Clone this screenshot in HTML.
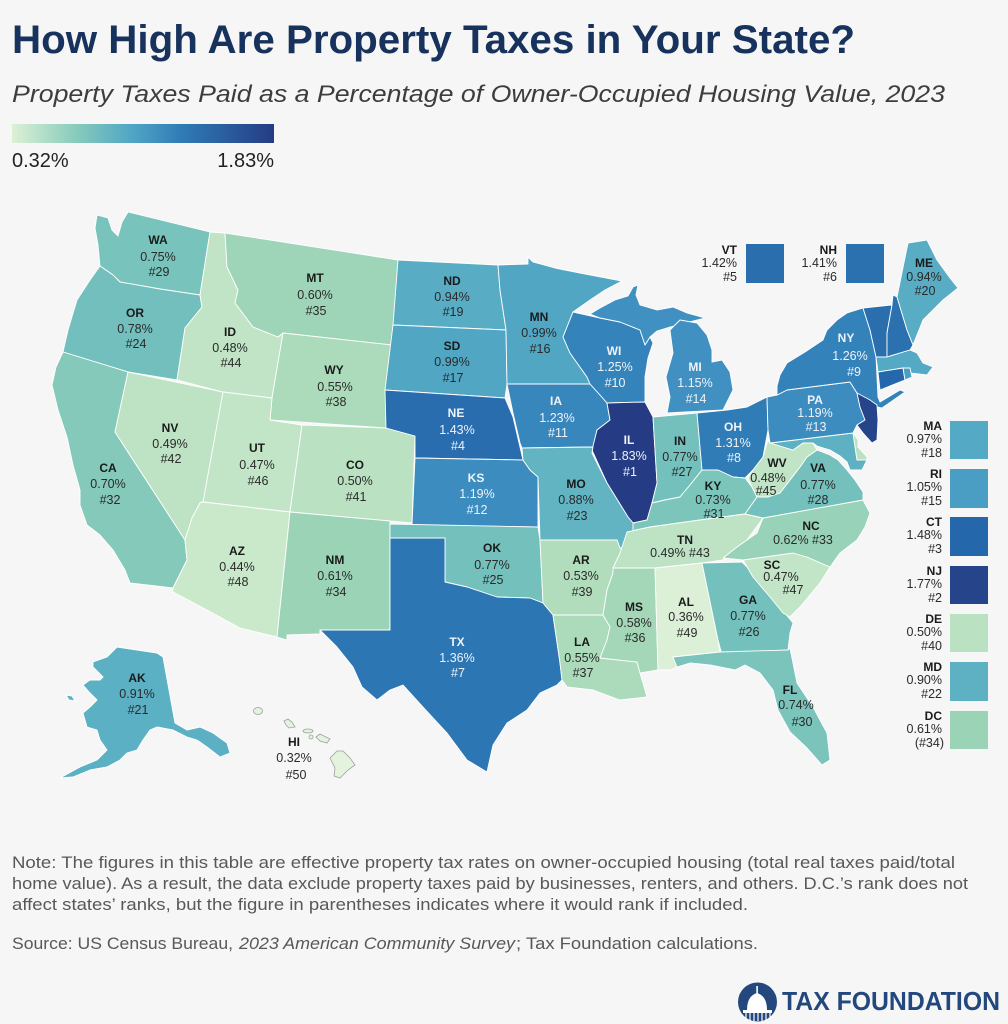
<!DOCTYPE html>
<html><head><meta charset="utf-8"><style>
html,body{margin:0;padding:0;background:#f6f6f6;}
svg{display:block;font-family:"Liberation Sans",Arial,sans-serif;}
.s{stroke:#fff;stroke-width:0.9;stroke-linejoin:round;}
.a{font-weight:bold;font-size:12px;fill:#1a1a1a;}
.v{font-size:12.5px;fill:#2a2a2a;}
.w .a,.w .v{fill:#eef3f9;}
.lab text{text-anchor:middle;}
.ins text{text-anchor:end;}
</style></head><body>
<svg width="1008" height="1024" viewBox="0 0 1008 1024" xmlns="http://www.w3.org/2000/svg">
<defs>
<linearGradient id="g" x1="0" x2="1" y1="0" y2="0">
<stop offset="0" stop-color="#dcf1d5"/>
<stop offset="0.25" stop-color="#86cabb"/>
<stop offset="0.45" stop-color="#52a7c5"/>
<stop offset="0.65" stop-color="#2f7bb6"/>
<stop offset="1" stop-color="#253c84"/>
</linearGradient>
</defs>
<rect width="1008" height="1024" fill="#f6f6f6"/>
<text x="12" y="53" font-size="40" font-weight="bold" fill="#17325c" textLength="843" lengthAdjust="spacingAndGlyphs">How High Are Property Taxes in Your State?</text>
<text x="12" y="102" font-size="24" font-style="italic" fill="#3d3d3d" textLength="933" lengthAdjust="spacingAndGlyphs">Property Taxes Paid as a Percentage of Owner-Occupied Housing Value, 2023</text>
<rect x="12" y="124" width="262" height="19" fill="url(#g)"/>
<text x="12" y="167" font-size="20" fill="#222">0.32%</text>
<text x="274" y="167" font-size="20" fill="#222" text-anchor="end">1.83%</text>

<g class="s">
<polygon fill="#78c3bc" points="97,215 108,218 112,230 118,236 122,222 128,212 210,232 200,295 160,289 120,282 113,275 100,266 98,245 95,228"/>
<polygon fill="#72bfbe" points="100,266 113,275 120,282 160,289 200,295 202,307 185,328 177,380 128,372 63,352 68,330 77,300 90,280"/>
<polygon fill="#84c9ba" points="63,352 128,372 115,432 185,540 187,560 173,588 130,583 125,570 113,550 100,535 87,525 80,505 80,490 73,465 67,437 58,410 52,385 56,367"/>
<polygon fill="#bde3c4" points="128,372 223,392 205,500 200,503 192,518 185,540 115,432"/>
<polygon fill="#c0e4c5" points="210,232 225,233 227,267 238,290 235,303 253,327 278,337 283,333 272,398 223,392 177,380 185,328 202,307 200,295"/>
<polygon fill="#9ed4b7" points="225,233 398,260 392,345 283,333 278,337 253,327 235,303 238,290 227,267"/>
<polygon fill="#abdbba" points="283,333 392,345 386,428 270,420 272,398"/>
<polygon fill="#c3e5c7" points="223,392 272,398 270,420 302,425 290,512 203,502"/>
<polygon fill="#bae2c2" points="302,425 386,428 415,436 412,523 290,512"/>
<polygon fill="#cae9cb" points="203,502 290,512 277,637 240,628 207,610 173,592 173,588 187,560 185,540 192,518 200,503"/>
<polygon fill="#9bd3b7" points="290,512 390,521 390,630 320,630 320,634 287,635 287,640 277,637"/>
<polygon fill="#58acc4" points="398,260 498,265 500,290 503,310 506,330 393,325"/>
<polygon fill="#51a6c4" points="393,325 506,330 507,384 505,398 385,390"/>
<polygon fill="#2a6dae" points="385,390 505,398 513,417 520,447 523,460 415,458 415,436 386,428"/>
<polygon fill="#3c8cbf" points="415,458 523,460 530,470 538,477 538,527 412,525"/>
<polygon fill="#74c0bd" points="390,524 538,527 540,540 543,603 530,598 497,597 467,587 445,582 445,538 390,538"/>
<polygon fill="#2c76b3" points="390,538 445,538 445,582 467,587 497,597 530,598 543,603 553,615 560,663 562,680 557,685 540,693 527,710 507,723 493,745 487,772 467,760 447,733 423,707 403,685 390,690 377,700 362,687 353,667 337,647 320,630 390,630"/>
<polygon fill="#51a6c4" points="498,265 528,264 528,257 533,262 555,268 580,273 622,281 605,290 590,300 573,312 563,337 570,353 587,377 590,384 507,384 506,330 503,310 500,290"/>
<polygon fill="#3887bc" points="507,384 590,384 600,395 607,403 610,420 597,430 593,447 522,448 520,443 513,413"/>
<polygon fill="#3483ba" points="573,312 600,318 620,322 640,330 645,345 650,337 653,343 648,358 645,377 645,402 607,403 600,395 590,384 587,377 570,353 563,337"/>
<polygon fill="#4091c1" points="590,314 600,308 615,300 628,296 633,287 638,285 636,295 640,305 657,310 673,307 687,313 705,318 693,321 670,327 657,331 650,337 645,345 640,330 620,322 600,318"/>
<polygon fill="#4091c1" points="670,330 680,320 697,323 707,335 712,350 712,362 722,360 730,372 733,390 727,402 723,410 667,413 670,397 666,377 673,353"/>
<polygon fill="#253c84" points="607,403 645,402 653,417 657,483 652,503 647,520 633,523 628,517 607,483 592,450 597,430 610,420"/>
<polygon fill="#74c0bd" points="653,417 697,413 702,470 690,485 680,497 665,500 652,503 657,483"/>
<polygon fill="#307cb6" points="697,413 727,410 747,407 767,397 768,430 763,457 753,470 745,478 733,477 718,470 702,470"/>
<polygon fill="#7cc5bb" points="633,523 647,520 652,503 665,500 680,497 690,485 702,470 718,470 733,477 745,478 752,487 757,497 745,514 700,520 650,527 627,532"/>
<polygon fill="#62b4c2" points="522,448 593,447 592,453 607,483 628,517 633,523 633,533 627,537 628,548 620,548 617,540 540,540 538,477 530,470 523,460"/>
<polygon fill="#b1ddbd" points="540,540 617,540 620,548 623,550 613,573 607,590 603,615 553,615 543,603"/>
<polygon fill="#abdbba" points="553,615 603,615 610,627 607,640 600,658 637,662 640,673 647,697 620,700 593,690 567,687 562,680 560,663"/>
<polygon fill="#a3d7b8" points="613,568 655,568 658,670 640,673 637,662 600,658 607,640 610,627 603,615 607,590 613,573"/>
<polygon fill="#bde3c4" points="627,532 650,527 700,520 745,514 763,518 747,540 727,557 723,560 702,563 655,568 613,568 620,553"/>
<polygon fill="#dcf0d7" points="655,568 702,563 718,640 720,652 673,657 677,667 670,670 658,670"/>
<polygon fill="#74c0bd" points="702,563 742,562 757,577 780,607 793,623 790,633 788,650 722,655 718,640"/>
<polygon fill="#7ac4bc" points="673,657 720,652 788,650 790,648 797,683 813,707 827,733 830,760 822,765 807,748 790,732 778,710 773,690 760,673 745,665 735,670 710,665 690,663 677,667"/>
<polygon fill="#c3e5c7" points="743,560 793,553 807,557 830,567 820,583 800,607 790,617 783,613 770,597 753,577"/>
<polygon fill="#98d2b8" points="763,518 863,500 870,513 865,527 857,540 840,553 830,567 807,557 793,553 743,560 723,558 737,547 757,533"/>
<polygon fill="#74c0bd" points="745,514 757,497 768,497 780,493 790,480 800,467 807,457 817,450 830,455 838,460 847,470 855,480 863,492 863,500 763,518"/>
<polygon fill="#c0e4c5" points="768,440 770,443 793,450 803,443 813,443 817,450 807,457 800,467 790,480 780,493 768,497 757,497 752,487 748,478 753,470 763,457"/>
<polygon fill="#5eb1c3" points="770,443 853,433 857,460 867,460 862,470 850,470 847,462 840,456 830,450 817,446 813,443 803,443 793,450"/>
<polygon fill="#bae2c2" points="853,433 858,440 858,447 867,457 867,460 857,460"/>
<polygon fill="#3c8cbf" points="767,397 777,395 787,390 850,382 857,393 860,407 865,420 857,425 853,433 770,443 768,430"/>
<polygon fill="#3382b9" points="777,395 777,386 780,375 787,363 805,352 823,340 827,330 837,320 847,313 863,308 870,330 876,357 877,377 878,397 880,402 900,390 905,392 882,408 870,405 857,393 850,382 787,390"/>
<polygon fill="#26448a" points="857,393 870,400 877,405 878,420 877,440 872,443 863,433 857,425 865,420 860,407"/>
<polygon fill="#2a6eae" points="863,308 892,305 887,333 887,357 876,357 870,330"/>
<polygon fill="#2b70af" points="892,305 893,295 897,297 907,330 913,345 910,350 887,357 887,333"/>
<polygon fill="#58acc4" points="897,297 908,243 927,240 937,260 950,278 958,288 943,300 923,320 913,345 907,330"/>
<polygon fill="#54a9c4" points="876,357 887,357 910,350 917,353 923,363 933,367 927,375 910,373 903,368 878,372"/>
<polygon fill="#2467aa" points="878,372 903,368 905,380 880,390"/>
<polygon fill="#4a9ec3" points="903,368 910,368 912,377 905,380"/>
<polygon fill="#5cb0c3" points="93,667 93,662 107,657 117,647 157,653 163,657 175,723 187,730 200,727 213,733 227,743 230,753 220,757 207,747 197,740 187,737 173,730 157,727 150,730 143,740 137,750 127,753 120,760 107,767 90,770 73,777 60,778 80,767 97,760 107,750 100,740 97,730 87,727 83,713 90,707 97,700 90,693 83,685 90,680 100,680 103,677"/>
<polygon fill="#5cb0c3" points="66,695 72,696 75,701 69,700"/>
</g>
<g fill="#e3f3dd" stroke="#9aa3a0" stroke-width="0.8">
<ellipse cx="258" cy="711" rx="4.5" ry="3.5"/>
<polygon points="284,721 288,719 292,722 295,727 289,728 286,725"/>
<ellipse cx="308" cy="731" rx="5" ry="2"/>
<circle cx="311" cy="737" r="2"/>
<polygon points="316,737 320,734 324,736 330,739 327,743 320,741"/>
<polygon points="330,758 337,751 343,751 350,758 355,765 348,770 340,778 334,776 335,768"/>
</g>

<g class="lab">
<text class="a" x="158" y="244">WA</text><text class="v" x="158" y="261">0.75%</text><text class="v" x="159" y="276">#29</text>
<text class="a" x="135" y="317">OR</text><text class="v" x="135" y="333">0.78%</text><text class="v" x="136" y="348">#24</text>
<text class="a" x="230" y="336">ID</text><text class="v" x="230" y="352">0.48%</text><text class="v" x="231" y="367">#44</text>
<text class="a" x="315" y="282">MT</text><text class="v" x="315" y="299">0.60%</text><text class="v" x="316" y="315">#35</text>
<text class="a" x="334" y="374">WY</text><text class="v" x="335" y="391">0.55%</text><text class="v" x="336" y="406">#38</text>
<text class="a" x="170" y="432">NV</text><text class="v" x="170" y="448">0.49%</text><text class="v" x="171" y="463">#42</text>
<text class="a" x="257" y="452">UT</text><text class="v" x="257" y="469">0.47%</text><text class="v" x="258" y="485">#46</text>
<text class="a" x="355" y="469">CO</text><text class="v" x="355" y="485">0.50%</text><text class="v" x="356" y="501">#41</text>
<text class="a" x="108" y="472">CA</text><text class="v" x="108" y="488">0.70%</text><text class="v" x="110" y="504">#32</text>
<text class="a" x="237" y="555">AZ</text><text class="v" x="237" y="571">0.44%</text><text class="v" x="238" y="586">#48</text>
<text class="a" x="335" y="564">NM</text><text class="v" x="335" y="580">0.61%</text><text class="v" x="336" y="596">#34</text>
<text class="a" x="137" y="682">AK</text><text class="v" x="137" y="698">0.91%</text><text class="v" x="138" y="714">#21</text>
<text class="a" x="294" y="746">HI</text><text class="v" x="294" y="762">0.32%</text><text class="v" x="296" y="779">#50</text>
<text class="a" x="452" y="285">ND</text><text class="v" x="452" y="301">0.94%</text><text class="v" x="453" y="316">#19</text>
<text class="a" x="539" y="321">MN</text><text class="v" x="539" y="337">0.99%</text><text class="v" x="540" y="353">#16</text>
<text class="a" x="452" y="350">SD</text><text class="v" x="452" y="366">0.99%</text><text class="v" x="453" y="382">#17</text>
<text class="a" x="680" y="445">IN</text><text class="v" x="680" y="461">0.77%</text><text class="v" x="682" y="476">#27</text>
<text class="a" x="576" y="488">MO</text><text class="v" x="576" y="504">0.88%</text><text class="v" x="577" y="520">#23</text>
<text class="a" x="713" y="490">KY</text><text class="v" x="713" y="504">0.73%</text><text class="v" x="714" y="518">#31</text>
<text class="a" x="777" y="467">WV</text><text class="v" x="768" y="482">0.48%</text><text class="v" x="766" y="495">#45</text>
<text class="a" x="818" y="472">VA</text><text class="v" x="818" y="489">0.77%</text><text class="v" x="818" y="504">#28</text>
<text class="a" x="685" y="544">TN</text><text class="v" x="680" y="557">0.49%  #43</text>
<text class="a" x="811" y="530">NC</text><text class="v" x="803" y="544">0.62%  #33</text>
<text class="a" x="772" y="569">SC</text><text class="v" x="781" y="581">0.47%</text><text class="v" x="793" y="594">#47</text>
<text class="a" x="492" y="552">OK</text><text class="v" x="492" y="569">0.77%</text><text class="v" x="493" y="584">#25</text>
<text class="a" x="581" y="564">AR</text><text class="v" x="581" y="580">0.53%</text><text class="v" x="582" y="596">#39</text>
<text class="a" x="634" y="611">MS</text><text class="v" x="634" y="627">0.58%</text><text class="v" x="635" y="642">#36</text>
<text class="a" x="686" y="606">AL</text><text class="v" x="686" y="621">0.36%</text><text class="v" x="687" y="637">#49</text>
<text class="a" x="748" y="604">GA</text><text class="v" x="748" y="620">0.77%</text><text class="v" x="749" y="636">#26</text>
<text class="a" x="582" y="646">LA</text><text class="v" x="582" y="662">0.55%</text><text class="v" x="583" y="677">#37</text>
<text class="a" x="790" y="694">FL</text><text class="v" x="796" y="709">0.74%</text><text class="v" x="802" y="726">#30</text>
<text class="a" x="924" y="267">ME</text><text class="v" x="924" y="281">0.94%</text><text class="v" x="925" y="295">#20</text>
<g class="w">
<text class="a" x="614" y="355">WI</text><text class="v" x="615" y="371">1.25%</text><text class="v" x="615" y="387">#10</text>
<text class="a" x="695" y="371">MI</text><text class="v" x="695" y="387">1.15%</text><text class="v" x="696" y="403">#14</text>
<text class="a" x="556" y="405">IA</text><text class="v" x="557" y="422">1.23%</text><text class="v" x="558" y="437">#11</text>
<text class="a" x="456" y="417">NE</text><text class="v" x="457" y="434">1.43%</text><text class="v" x="458" y="450">#4</text>
<text class="a" x="733" y="431">OH</text><text class="v" x="733" y="447">1.31%</text><text class="v" x="734" y="462">#8</text>
<text class="a" x="629" y="444">IL</text><text class="v" x="629" y="460">1.83%</text><text class="v" x="630" y="476">#1</text>
<text class="a" x="476" y="482">KS</text><text class="v" x="477" y="498">1.19%</text><text class="v" x="477" y="514">#12</text>
<text class="a" x="457" y="646">TX</text><text class="v" x="457" y="662">1.36%</text><text class="v" x="458" y="677">#7</text>
<text class="a" x="815" y="404">PA</text><text class="v" x="815" y="417">1.19%</text><text class="v" x="816" y="431">#13</text>
<text class="a" x="846" y="342">NY</text><text class="v" x="850" y="360">1.26%</text><text class="v" x="854" y="376">#9</text>
</g>
</g>

<g class="ins">
<text class="a" x="737" y="254">VT</text><text class="v" x="737" y="267">1.42%</text><text class="v" x="737" y="281">#5</text>
<rect x="746" y="244" width="38" height="39" fill="#2a6eae"/>
<text class="a" x="837" y="254">NH</text><text class="v" x="837" y="267">1.41%</text><text class="v" x="837" y="281">#6</text>
<rect x="846" y="244" width="38" height="39" fill="#2b70af"/>

<rect x="950" y="421" width="38" height="38" fill="#54a9c4"/>
<text class="a" x="942" y="430">MA</text><text class="v" x="942" y="443">0.97%</text><text class="v" x="942" y="457">#18</text>
<rect x="950" y="469" width="38" height="39" fill="#4a9ec3"/>
<text class="a" x="942" y="478">RI</text><text class="v" x="942" y="491">1.05%</text><text class="v" x="942" y="505">#15</text>
<rect x="950" y="517" width="38" height="39" fill="#2467aa"/>
<text class="a" x="942" y="526">CT</text><text class="v" x="942" y="539">1.48%</text><text class="v" x="942" y="553">#3</text>
<rect x="950" y="566" width="38" height="38" fill="#26448a"/>
<text class="a" x="942" y="575">NJ</text><text class="v" x="942" y="588">1.77%</text><text class="v" x="942" y="602">#2</text>
<rect x="950" y="614" width="38" height="38" fill="#bae2c2"/>
<text class="a" x="942" y="623">DE</text><text class="v" x="942" y="636">0.50%</text><text class="v" x="942" y="650">#40</text>
<rect x="950" y="662" width="38" height="39" fill="#5eb1c3"/>
<text class="a" x="942" y="671">MD</text><text class="v" x="942" y="684">0.90%</text><text class="v" x="942" y="698">#22</text>
<rect x="950" y="711" width="38" height="38" fill="#9bd3b7"/>
<text class="a" x="942" y="720">DC</text><text class="v" x="942" y="733">0.61%</text><text class="v" x="944" y="747">(#34)</text>
</g>

<g font-size="17" fill="#585858">
<text x="12" y="868" textLength="943" lengthAdjust="spacingAndGlyphs">Note: The figures in this table are effective property tax rates on owner-occupied housing (total real taxes paid/total</text>
<text x="12" y="889" textLength="956" lengthAdjust="spacingAndGlyphs">home value). As a result, the data exclude property taxes paid by businesses, renters, and others. D.C.’s rank does not</text>
<text x="12" y="910" textLength="736" lengthAdjust="spacingAndGlyphs">affect states’ ranks, but the figure in parentheses indicates where it would rank if included.</text>
<text x="12" y="949" textLength="221" lengthAdjust="spacingAndGlyphs">Source: US Census Bureau,</text>
<text x="239" y="949" font-style="italic" textLength="276" lengthAdjust="spacingAndGlyphs">2023 American Community Survey</text>
<text x="516" y="949" textLength="242" lengthAdjust="spacingAndGlyphs">; Tax Foundation calculations.</text>
</g>

<g>
<circle cx="757.5" cy="1002" r="19.5" fill="#23487d"/>
<path d="M747,1010 Q747,996 757,993 Q767,996 767,1010 Z" fill="#fff"/>
<rect x="756.3" y="986" width="1.6" height="8" fill="#fff"/>
<rect x="743" y="1010" width="29" height="3" fill="#fff"/>
<g stroke="#fff" stroke-width="1.2">
<line x1="746" y1="1013" x2="746" y2="1021"/><line x1="750" y1="1013" x2="750" y2="1021"/>
<line x1="754" y1="1013" x2="754" y2="1021"/><line x1="758" y1="1013" x2="758" y2="1021"/>
<line x1="762" y1="1013" x2="762" y2="1021"/><line x1="766" y1="1013" x2="766" y2="1021"/>
<line x1="770" y1="1013" x2="770" y2="1020"/>
</g>
<text x="782" y="1010" font-size="26" font-weight="bold" fill="#23487d" textLength="218" lengthAdjust="spacingAndGlyphs">TAX FOUNDATION</text>
</g>
</svg>
</body></html>
